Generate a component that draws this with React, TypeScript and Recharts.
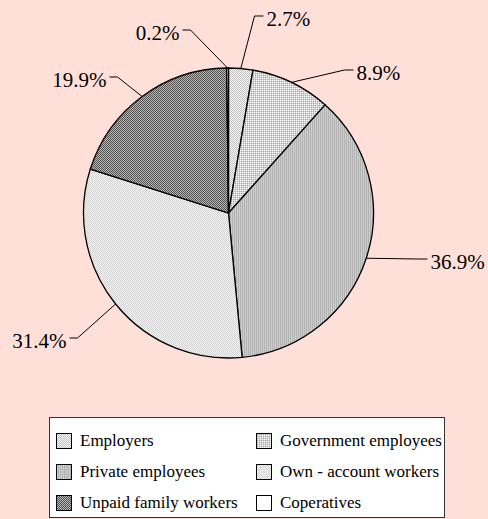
import { Cell, Legend, Pie, PieChart } from 'recharts';

const categories = [
  'Employers',
  'Government employees',
  'Private employees',
  'Own - account workers',
  'Unpaid family workers',
  'Coperatives',
];
const shares = [2.7, 8.9, 36.9, 31.4, 19.9, 0.2];
const patternIds = ['pEmp', 'pGov', 'pPriv', 'pOwn', 'pUnp', 'pCoop'];

// where each leader line bends, relative to the pie centre
const labelElbows: [number, number][] = [
  [26, -197],
  [116, -143],
  [190, 46],
  [-151, 125],
  [-111, -136],
  [-38, -183],
];

const data = categories.map((name, i) => ({ name, value: shares[i] }));

const FONT = 'Liberation Serif, Tinos, DejaVu Serif, serif';

function renderLabel(props: any) {
  const { cx, cy, midAngle, outerRadius, index, value } = props;
  const rad = Math.PI / 180;
  const sx = cx + outerRadius * Math.cos(-midAngle * rad);
  const sy = cy + outerRadius * Math.sin(-midAngle * rad);
  const [dx, dy] = labelElbows[index];
  const ex = cx + dx;
  const ey = cy + dy;
  const right = dx > 0;
  const hx = ex + (right ? 9 : -8);
  return (
    <g key={`lbl-${index}`}>
      <polyline points={`${sx},${sy} ${ex},${ey} ${hx},${ey}`} fill="none" stroke="#000" strokeWidth={1} />
      <text
        x={hx + (right ? 3 : -3)}
        y={ey + 3}
        textAnchor={right ? 'start' : 'end'}
        dominantBaseline="central"
        style={{ fontFamily: FONT, fontSize: 21 }}
        fill="#000"
      >
        {`${value.toFixed(1)}%`}
      </text>
    </g>
  );
}

function LegendBox() {
  return (
    <div
      style={{
        position: 'relative',
        width: 396,
        height: 101,
        boxSizing: 'border-box',
        background: '#fff',
        border: '1px solid #333',
        fontFamily: FONT,
        fontSize: 17,
        color: '#000',
      }}
    >
      {categories.map((name, i) => {
        const col = i % 2;
        const row = Math.floor(i / 2);
        return (
          <div
            key={name}
            style={{
              position: 'absolute',
              left: col === 0 ? 6 : 206,
              top: 13 + row * 31,
              display: 'flex',
              alignItems: 'center',
              whiteSpace: 'nowrap',
              height: 20,
            }}
          >
            <svg width={16} height={16} style={{ marginRight: 8 }}>
              <rect x={0.5} y={0.5} width={15} height={15} fill={`url(#${patternIds[i]})`} stroke="#000" />
            </svg>
            <span>{name}</span>
          </div>
        );
      })}
    </div>
  );
}

export default function App() {
  return (
    <div style={{ position: 'absolute', left: 0, top: 0, width: 488, height: 519, background: '#FFE0D9' }}>
      <PieChart width={488} height={519} margin={{ top: 0, right: 0, bottom: 0, left: 0 }}>
        <defs>
          <pattern id="pEmp" width={2} height={2} patternUnits="userSpaceOnUse">
            <rect width={2} height={2} fill="#f4f4f4" />
            <rect width={1} height={1} fill="#c4c4c4" />
            <rect x={1} y={1} width={1} height={1} fill="#c4c4c4" />
          </pattern>
          <pattern id="pGov" width={2} height={2} patternUnits="userSpaceOnUse">
            <rect width={2} height={2} fill="#cfcfcf" />
            <rect width={1} height={1} fill="#ffffff" />
            <rect x={1} y={1} width={1} height={1} fill="#b0b0b0" />
          </pattern>
          <pattern id="pPriv" width={2} height={2} patternUnits="userSpaceOnUse">
            <rect width={2} height={2} fill="#cecece" />
            <rect width={1} height={2} fill="#b2b2b2" />
          </pattern>
          <pattern id="pOwn" width={2} height={2} patternUnits="userSpaceOnUse">
            <rect width={2} height={2} fill="#f2f2f2" />
            <rect width={1} height={1} fill="#d4d4d4" />
            <rect x={1} y={1} width={1} height={1} fill="#d4d4d4" />
          </pattern>
          <pattern id="pUnp" width={2} height={2} patternUnits="userSpaceOnUse">
            <rect width={2} height={2} fill="#b8b8b8" />
            <rect width={1} height={1} fill="#505050" />
            <rect x={1} y={1} width={1} height={1} fill="#505050" />
          </pattern>
          <pattern id="pCoop" width={2} height={2} patternUnits="userSpaceOnUse">
            <rect width={2} height={2} fill="#ffffff" />
          </pattern>
        </defs>
        <Pie
          data={data}
          dataKey="value"
          nameKey="name"
          cx={228.5}
          cy={213}
          outerRadius={145}
          startAngle={90}
          endAngle={-270}
          stroke="#000"
          strokeWidth={1.3}
          label={renderLabel}
          labelLine={false}
          isAnimationActive={false}
        >
          {data.map((d, i) => (
            <Cell key={d.name} fill={`url(#${patternIds[i]})`} />
          ))}
        </Pie>
        <Legend
          content={() => <LegendBox />}
          wrapperStyle={{ position: 'absolute', left: 49, top: 417, width: 396, height: 101 }}
        />
      </PieChart>
    </div>
  );
}
